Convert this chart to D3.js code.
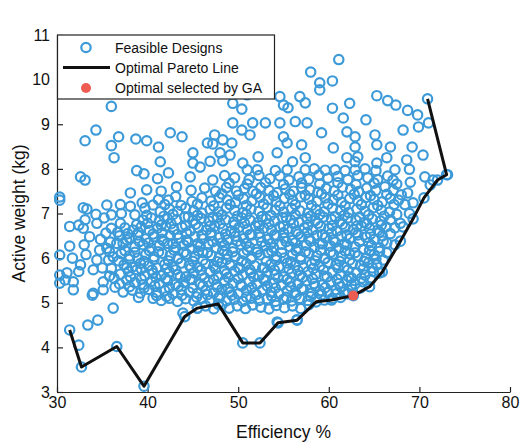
<!DOCTYPE html>
<html>
<head>
<meta charset="utf-8">
<script src="https://cdn.jsdelivr.net/npm/d3@7"></script>
<style>
  body { margin: 0; background: #fff; }
  svg { display: block; font-family: "Liberation Sans", Arial, Helvetica, sans-serif; }
</style>
</head>
<body>
<svg id="chart" width="526" height="444"></svg>
<script>
// Axis ticks
const effTicks = [30, 40, 50, 60, 70, 80];
const weightTicks = [3, 4, 5, 6, 7, 8, 9, 10, 11];

// Optimal Pareto line (efficiency %, active weight kg)
const paretoEff =    [31.4, 32.7, 36.6, 39.6, 44.1, 45.5, 47.8, 50.5, 52.4, 54.4, 56.5, 58.6, 60.3, 62.7, 64.5, 65.9, 67.9, 69.3, 70.5, 72.0, 73.0, 70.9];
const paretoWeight = [4.39, 3.56, 4.02, 3.13, 4.69, 4.88, 4.97, 4.10, 4.10, 4.55, 4.61, 5.02, 5.06, 5.16, 5.36, 5.69, 6.38, 6.88, 7.35, 7.75, 7.87, 9.57];

// Design chosen by the genetic algorithm
const gaEff = [62.7];
const gaWeight = [5.16];

// Feasible designs [efficiency %, active weight kg]
const feasibleDesigns = [
  // upper, sparse part
  [61.1,10.45],[58.0,10.17],[59.0,9.93],[60.4,9.97],[59.0,9.77],
  [65.3,9.64],[66.5,9.53],[67.4,9.43],[68.7,9.31],[69.8,9.21],
  [62.3,9.47],[60.4,9.36],[61.6,9.14],[64.1,9.10],
  [54.6,9.62],[55.0,9.43],[55.5,9.37],[56.8,9.62],[57.4,9.48],
  [51.0,9.66],[50.4,9.34],[49.4,9.47],[36.0,9.40],
  [51.6,9.03],[53.0,9.03],[54.6,9.03],[56.3,9.06],[57.6,9.03],[49.4,9.03],[50.4,8.87],
  [71.0,9.03],[69.9,8.94],[68.2,8.87],[59.2,8.81],[62.0,8.83],[62.9,8.72],[65.1,8.76],
  [55.0,8.72],[55.4,8.58],[51.3,8.76],
  [33.1,8.63],[34.3,8.87],[36.0,8.52],[36.8,8.72],[36.3,8.25],[38.7,8.67],[39.9,8.63],
  [41.2,8.49],[42.5,8.81],[43.8,8.72],[41.4,8.16],
  [45.0,8.36],[45.0,8.13],[45.8,8.04],[46.9,8.17],[46.6,8.58],[47.4,8.76],[47.2,8.56],
  [48.3,8.65],[49.3,8.58],[48.0,8.36],[49.1,8.31],[48.3,8.18],[50.5,8.13],
  [57.0,8.54],[60.5,8.47],[62.9,8.49],[63.2,8.27],[65.3,8.54],[66.8,8.49],[69.2,8.49],
  [70.4,8.31],[68.6,8.20],[66.4,8.25],[65.3,8.13],[62.9,8.16],[62.0,8.25],[52.2,8.27],
  [54.3,8.36],[56.0,8.16],[57.4,8.25],
  // band around 8.0
  [51.0,7.98],[52.1,7.98],[54.1,7.96],[55.4,7.98],[57.4,7.98],[58.4,8.00],[59.6,7.97],
  [60.7,7.98],[61.8,7.96],[62.9,7.98],[64.0,8.00],[65.2,7.96],[67.3,7.98],[68.9,7.99],
  // band around 7.8
  [32.6,7.82],[33.1,7.75],[38.8,7.96],[39.6,7.89],[41.1,7.78],[42.3,7.91],[44.7,7.82],
  [47.2,7.75],[48.5,7.85],[49.6,7.80],[51.2,7.76],[52.3,7.85],[53.5,7.78],[54.6,7.84],
  [55.6,7.75],[56.7,7.82],[57.8,7.77],[58.9,7.86],[59.9,7.79],[61.0,7.83],[62.1,7.76],
  [63.2,7.85],[64.3,7.80],[65.4,7.76],[66.5,7.84],[67.1,7.75],[70.6,7.82],[71.5,7.75],[73.1,7.87],
  [49.0,7.68],[51.0,7.66],[53.0,7.69],[55.0,7.65],[57.0,7.68],[59.0,7.66],[61.0,7.69],
  [63.0,7.65],[65.0,7.68],[67.5,7.66],[69.0,7.70],
  // band around 7.55
  [39.9,7.53],[43.2,7.60],[46.3,7.57],[41.5,7.50],[44.8,7.52],[47.5,7.50],[48.7,7.58],
  [49.8,7.50],[50.7,7.56],[51.6,7.50],[52.5,7.58],[53.4,7.52],[54.3,7.47],[55.2,7.55],
  [56.1,7.50],[57.0,7.58],[57.9,7.53],[58.8,7.48],[59.7,7.56],[60.6,7.51],[61.5,7.59],
  [62.4,7.54],[63.3,7.49],[64.2,7.57],[65.2,7.52],[66.2,7.60],[67.1,7.52],[68.7,7.46],[71.2,7.64],
  [48.2,7.44],[50.0,7.41],[52.0,7.44],[53.9,7.40],[55.7,7.43],[57.4,7.41],[59.2,7.44],
  [61.0,7.41],[62.8,7.43],[64.6,7.40],[66.4,7.43],[68.0,7.42],
  // band around 7.3
  [30.3,7.37],[38.1,7.46],[39.4,7.24],[41.2,7.31],[42.3,7.30],[43.1,7.38],[44.9,7.27],
  [46.0,7.35],[47.0,7.28],[47.9,7.36],[48.8,7.30],[49.7,7.25],[50.6,7.33],[51.5,7.28],
  [52.4,7.36],[53.3,7.31],[54.2,7.26],[55.1,7.34],[56.0,7.29],[56.9,7.37],[57.8,7.32],
  [58.7,7.27],[59.6,7.35],[60.5,7.30],[61.4,7.25],[62.3,7.33],[63.2,7.28],[64.1,7.36],
  [65.0,7.31],[65.9,7.26],[66.8,7.34],[67.7,7.30],
  [37.0,7.20],[41.9,7.20],[43.7,7.18],[45.5,7.21],[47.3,7.17],[49.1,7.20],[50.9,7.18],
  [52.8,7.21],[54.6,7.17],[56.3,7.20],[58.1,7.18],[59.9,7.21],[61.8,7.17],[63.6,7.20],
  [65.4,7.18],[67.2,7.20],
  // band around 7.05
  [30.3,7.30],[33.3,7.10],[32.9,7.13],[35.5,7.19],[38.1,7.16],[39.7,7.12],[40.6,7.19],
  [41.4,7.04],[42.4,7.10],[43.3,7.05],[44.2,7.12],[45.1,7.06],[46.0,7.01],[46.9,7.09],
  [47.8,7.04],[48.7,7.12],[49.6,7.07],[50.5,7.02],[51.4,7.10],[52.3,7.05],[53.2,7.13],
  [54.1,7.08],[55.0,7.03],[55.9,7.11],[56.8,7.06],[57.7,7.01],[58.6,7.09],[59.5,7.04],
  [60.4,7.12],[61.3,7.07],[62.2,7.02],[63.1,7.10],[64.0,7.05],[64.9,7.13],[65.8,7.08],
  [66.7,7.03],[68.4,7.20],[69.3,7.24],[68.9,7.00],
  [34.3,6.98],[39.9,6.96],[41.8,6.94],[42.8,6.98],[44.5,6.93],[45.5,6.96],[47.2,6.92],
  [48.2,6.97],[49.9,6.94],[50.9,6.98],[52.6,6.93],[53.6,6.96],[55.3,6.92],[56.3,6.97],
  [58.0,6.94],[59.0,6.98],[60.7,6.93],[61.7,6.96],[63.4,6.92],[64.4,6.97],[66.1,6.94],[67.5,6.98],
  // band around 6.85
  [33.1,6.86],[35.2,6.90],[36.0,6.97],[37.1,7.00],[38.6,6.97],[39.5,6.85],[40.4,6.90],
  [41.3,6.83],[42.2,6.88],[43.2,6.86],[44.1,6.92],[45.0,6.84],[45.9,6.89],[46.8,6.83],
  [47.7,6.91],[48.6,6.86],[49.5,6.81],[50.4,6.90],[51.3,6.85],[52.2,6.80],[53.1,6.88],
  [54.0,6.83],[54.9,6.91],[55.8,6.86],[56.7,6.81],[57.6,6.89],[58.5,6.84],[59.4,6.92],
  [60.3,6.87],[61.2,6.82],[62.1,6.90],[63.0,6.85],[63.9,6.80],[64.8,6.88],[65.7,6.83],[66.8,6.86],
  [37.0,6.78],[38.8,6.75],[40.0,6.78],[41.5,6.74],[42.6,6.77],[44.2,6.73],[45.3,6.76],
  [46.9,6.72],[48.0,6.77],[49.6,6.74],[50.7,6.78],[52.3,6.73],[53.4,6.76],[55.0,6.72],
  [56.1,6.77],[57.7,6.74],[58.8,6.78],[60.4,6.73],[61.5,6.76],[63.1,6.72],[64.2,6.77],[65.8,6.74],
  // band around 6.65
  [31.4,6.71],[32.4,6.74],[32.9,6.67],[34.4,6.78],[36.0,6.67],[36.7,6.58],[37.5,6.68],
  [38.4,6.63],[39.3,6.70],[40.2,6.62],[41.1,6.67],[42.0,6.72],[42.9,6.64],[43.8,6.69],
  [44.7,6.61],[45.6,6.68],[46.5,6.63],[47.4,6.71],[48.3,6.66],[49.2,6.60],[50.1,6.69],
  [51.0,6.64],[51.9,6.72],[52.8,6.67],[53.7,6.62],[54.6,6.70],[55.5,6.65],[56.4,6.60],
  [57.3,6.68],[58.2,6.63],[59.1,6.71],[60.0,6.66],[60.9,6.61],[61.8,6.69],[62.7,6.64],
  [63.6,6.72],[64.5,6.67],[65.4,6.62],[66.3,6.70],[67.3,6.68],[68.2,6.70],[67.9,6.78],
  [35.4,6.56],[37.8,6.55],[39.0,6.58],[40.6,6.54],[41.6,6.57],[43.3,6.53],[44.3,6.56],
  [46.0,6.52],[47.0,6.57],[48.6,6.54],[49.6,6.58],[51.3,6.53],[52.3,6.56],[54.0,6.52],
  [55.0,6.57],[56.6,6.54],[57.6,6.58],[59.3,6.53],[60.3,6.56],[62.0,6.52],[63.0,6.57],
  [64.6,6.54],[65.6,6.58],
  // band around 6.45
  [33.6,6.48],[34.8,6.42],[36.9,6.50],[38.0,6.45],[38.9,6.52],[39.8,6.43],[40.7,6.48],
  [41.6,6.42],[42.5,6.50],[43.4,6.45],[44.3,6.40],[45.2,6.48],[46.1,6.43],[47.0,6.51],
  [47.9,6.46],[48.8,6.41],[49.7,6.49],[50.6,6.44],[51.5,6.52],[52.4,6.47],[53.3,6.42],
  [54.2,6.50],[55.1,6.45],[56.0,6.40],[56.9,6.48],[57.8,6.43],[58.7,6.51],[59.6,6.46],
  [60.5,6.41],[61.4,6.49],[62.3,6.44],[63.2,6.52],[64.1,6.47],[65.0,6.42],[65.9,6.50],[66.8,6.55],
  [35.9,6.36],[37.3,6.33],[39.1,6.37],[40.1,6.34],[41.8,6.38],[42.8,6.33],[44.5,6.36],
  [45.5,6.32],[47.2,6.37],[48.2,6.34],[49.9,6.38],[50.9,6.33],[52.6,6.36],[53.6,6.32],
  [55.3,6.37],[56.3,6.34],[58.0,6.38],[59.0,6.33],[60.7,6.36],[61.7,6.32],[63.4,6.37],
  [64.4,6.34],[66.0,6.38],
  // band around 6.25
  [31.4,6.27],[33.0,6.30],[35.5,6.22],[36.6,6.33],[37.7,6.41],[38.6,6.25],[39.5,6.30],
  [40.4,6.22],[41.3,6.28],[42.2,6.33],[43.1,6.24],[44.0,6.29],[44.9,6.21],[45.8,6.27],
  [46.7,6.32],[47.6,6.23],[48.5,6.28],[49.4,6.22],[50.3,6.30],[51.2,6.25],[52.1,6.20],
  [53.0,6.28],[53.9,6.23],[54.8,6.31],[55.7,6.26],[56.6,6.21],[57.5,6.29],[58.4,6.24],
  [59.3,6.32],[60.2,6.27],[61.1,6.22],[62.0,6.30],[62.9,6.25],[63.8,6.20],[64.7,6.28],
  [65.6,6.23],[66.4,6.34],[67.3,6.30],
  [35.8,6.14],[37.5,6.17],[38.6,6.13],[40.2,6.17],[41.2,6.14],[42.9,6.18],[44.0,6.13],
  [45.6,6.16],[46.6,6.12],[48.3,6.17],[49.4,6.14],[51.0,6.18],[52.1,6.13],[53.7,6.16],
  [54.8,6.12],[56.4,6.17],[57.4,6.14],[59.1,6.18],[60.2,6.13],[61.8,6.16],[62.9,6.12],
  [64.5,6.17],[65.6,6.15],
  // band around 6.05
  [30.3,6.07],[31.7,6.00],[33.2,6.08],[34.7,6.18],[36.2,6.03],[37.1,6.10],[38.0,6.05],
  [38.9,6.00],[39.8,6.08],[40.7,6.03],[41.6,6.11],[42.5,6.06],[43.4,6.00],[44.3,6.09],
  [45.2,6.04],[46.1,6.12],[47.0,6.06],[47.9,6.01],[48.8,6.09],[49.7,6.04],[50.6,6.10],
  [51.5,6.02],[52.4,6.07],[53.3,6.12],[54.2,6.04],[55.1,6.00],[56.0,6.08],[56.9,6.03],
  [57.8,6.11],[58.7,6.06],[59.6,6.00],[60.5,6.09],[61.4,6.04],[62.3,6.10],[63.2,6.05],
  [64.1,6.00],[65.0,6.08],[66.0,5.96],[66.4,6.12],
  [36.8,5.94],[38.0,5.97],[39.6,5.93],[40.7,5.97],[42.3,5.94],[43.3,5.98],[45.0,5.93],
  [46.1,5.96],[47.7,5.92],[48.7,5.97],[50.4,5.94],[51.4,5.98],[53.1,5.93],[54.2,5.96],
  [55.8,5.92],[56.9,5.97],[58.5,5.94],[59.5,5.98],[61.2,5.93],[62.3,5.96],[63.9,5.93],[65.2,5.98],
  // band around 5.85
  [32.6,5.85],[34.4,5.96],[35.7,5.96],[36.0,5.77],[37.4,5.85],[38.3,5.80],[39.2,5.88],
  [40.1,5.83],[41.0,5.78],[41.9,5.86],[42.8,5.81],[43.7,5.89],[44.6,5.84],[45.5,5.79],
  [46.4,5.87],[47.3,5.82],[48.2,5.90],[49.1,5.84],[50.0,5.79],[50.9,5.88],[51.8,5.83],
  [52.7,5.78],[53.6,5.86],[54.5,5.81],[55.4,5.89],[56.3,5.84],[57.2,5.79],[58.1,5.87],
  [59.0,5.82],[59.9,5.90],[60.8,5.85],[61.7,5.80],[62.6,5.88],[63.5,5.83],[64.4,5.90],[65.3,5.85],
  [35.0,5.78],[37.7,5.78],[39.3,5.76],[40.5,5.73],[42.1,5.77],[43.1,5.74],[44.8,5.78],
  [45.9,5.73],[47.5,5.76],[48.5,5.72],[50.2,5.77],[51.3,5.74],[52.9,5.78],[54.0,5.73],
  [55.6,5.76],[56.6,5.72],[58.3,5.77],[59.4,5.74],[61.0,5.78],[62.1,5.73],[63.8,5.76],[64.8,5.78],
  // band around 5.65
  [30.3,5.62],[31.1,5.67],[32.4,5.70],[34.0,5.74],[35.8,5.60],[37.0,5.64],[37.9,5.70],
  [38.8,5.74],[39.7,5.60],[40.6,5.66],[41.5,5.61],[42.4,5.69],[43.3,5.63],[44.2,5.58],
  [45.1,5.67],[46.0,5.62],[46.9,5.70],[47.8,5.60],[48.7,5.65],[49.6,5.71],[50.5,5.62],
  [51.4,5.67],[52.3,5.60],[53.2,5.69],[54.1,5.63],[55.0,5.58],[55.9,5.66],[56.8,5.61],
  [57.7,5.70],[58.6,5.64],[59.5,5.60],[60.4,5.68],[61.3,5.63],[62.2,5.58],[63.1,5.67],
  [64.0,5.62],[64.9,5.70],[65.6,5.67],
  [36.3,5.55],[38.1,5.58],[39.3,5.53],[40.9,5.57],[42.0,5.54],[43.6,5.58],[44.7,5.53],
  [46.3,5.56],[47.3,5.52],[48.9,5.57],[50.0,5.54],[51.7,5.58],[52.8,5.53],[54.4,5.56],
  [55.4,5.52],[57.1,5.57],[58.2,5.54],[59.8,5.58],[60.9,5.53],[62.5,5.56],[63.6,5.55],
  // band around 5.45
  [30.3,5.44],[30.9,5.51],[31.8,5.47],[35.1,5.47],[36.9,5.42],[37.7,5.51],[38.6,5.45],
  [39.5,5.40],[40.4,5.48],[41.3,5.43],[42.2,5.50],[43.1,5.41],[44.0,5.46],[44.9,5.52],
  [45.8,5.42],[46.7,5.47],[47.6,5.40],[48.5,5.49],[49.4,5.44],[50.3,5.40],[51.2,5.48],
  [52.1,5.42],[53.0,5.50],[53.9,5.44],[54.8,5.40],[55.7,5.47],[56.6,5.42],[57.5,5.49],
  [58.4,5.43],[59.3,5.40],[60.2,5.47],[61.1,5.43],[62.0,5.50],[62.9,5.42],[63.8,5.47],[64.6,5.52],
  [38.0,5.36],[39.6,5.33],[40.8,5.38],[42.4,5.34],[43.4,5.37],[45.0,5.33],[46.1,5.38],
  [47.7,5.35],[48.9,5.32],[50.4,5.37],[51.5,5.34],[53.2,5.38],[54.1,5.33],[55.8,5.36],
  [57.0,5.32],[58.5,5.37],[59.6,5.34],[61.3,5.36],[62.5,5.40],
  // band around 5.25
  [31.8,5.29],[34.0,5.21],[36.4,5.35],[37.3,5.24],[38.3,5.28],[39.2,5.22],[40.1,5.30],
  [41.0,5.23],[41.9,5.27],[42.8,5.20],[43.7,5.29],[44.6,5.24],[45.5,5.21],[46.4,5.28],
  [47.3,5.22],[48.2,5.30],[49.1,5.24],[50.0,5.20],[50.9,5.28],[51.8,5.22],[52.7,5.29],
  [53.6,5.24],[54.5,5.20],[55.4,5.27],[56.3,5.23],[57.2,5.30],[58.1,5.21],[59.0,5.27],
  [59.9,5.23],[60.8,5.29],[61.7,5.24],[62.6,5.30],[63.5,5.33],
  [39.0,5.12],[41.0,5.16],[42.1,5.14],[43.8,5.17],[45.4,5.13],[46.6,5.18],[48.0,5.15],
  [49.3,5.17],[50.9,5.13],[52.0,5.18],[53.7,5.15],[55.3,5.12],[56.4,5.17],[58.0,5.14],
  [59.2,5.18],[60.8,5.20],
  // band around 5.05
  [33.9,5.17],[35.1,5.29],[40.6,5.10],[41.5,5.05],[42.4,5.10],[43.3,5.03],[44.2,5.09],
  [45.1,5.04],[46.0,5.10],[46.9,5.05],[47.8,5.11],[48.7,5.04],[49.6,5.08],[50.5,5.03],
  [51.4,5.10],[52.3,5.05],[53.2,5.09],[54.1,5.03],[55.0,5.08],[55.9,5.04],[56.8,5.10],
  [57.7,5.05],[58.6,5.10],[59.5,5.06],[60.4,5.10],[61.3,5.12],[62.1,5.20],
  // lower edge of the cloud
  [45.5,4.88],[46.4,4.93],[47.3,4.86],[48.2,4.95],[49.0,4.88],[49.9,4.93],[50.8,4.87],
  [51.6,4.95],[52.5,4.90],[53.4,4.86],[54.2,4.94],[55.1,4.89],[56.0,4.93],[56.9,4.87],[57.8,4.96],
  [43.9,4.77],[54.3,4.57],[56.5,4.62],[33.4,4.50],[34.5,4.61],[32.4,4.05],[36.2,4.88]
];

const svg = d3.select("#chart");
const x = d3.scaleLinear().domain([30, 80]).range([57, 510]);
const y = d3.scaleLinear().domain([3, 11]).range([392, 35]);

const blue = "#3d9ad8";

// Axes (ticks point into the plot)
const xAxis = svg.append("g")
  .attr("transform", `translate(0,${y(3)})`)
  .call(d3.axisBottom(x).tickValues(effTicks).tickSize(-5).tickSizeOuter(0).tickPadding(5));
const yAxis = svg.append("g")
  .attr("transform", `translate(${x(30)},0)`)
  .call(d3.axisLeft(y).tickValues(weightTicks).tickSize(-6).tickSizeOuter(0).tickPadding(7));
[xAxis, yAxis].forEach(g => {
  g.select(".domain").attr("stroke", "#222").attr("stroke-width", 1.2);
  g.selectAll(".tick line").attr("stroke", "#222").attr("stroke-width", 1.2);
  g.selectAll(".tick text").attr("fill", "#111").style("font-size", "16px")
    .style("font-family", '"Liberation Sans", Arial, sans-serif');
});

// Feasible designs (the Pareto designs are feasible too)
const designs = feasibleDesigns.concat(paretoEff.map((e, i) => [e, paretoWeight[i]]));
svg.append("g").selectAll("circle")
  .data(designs)
  .join("circle")
  .attr("cx", d => x(d[0]))
  .attr("cy", d => y(d[1]))
  .attr("r", 4.7)
  .attr("fill", "none")
  .attr("stroke", blue)
  .attr("stroke-width", 2.2);

// Pareto line
const line = d3.line().x(d => x(d[0])).y(d => y(d[1]));
svg.append("path")
  .datum(paretoEff.map((e, i) => [e, paretoWeight[i]]))
  .attr("d", line)
  .attr("fill", "none")
  .attr("stroke", "#111")
  .attr("stroke-width", 3)
  .attr("stroke-linejoin", "round");

// GA selection
svg.append("g").selectAll("circle")
  .data(gaEff.map((e, i) => [e, gaWeight[i]]))
  .join("circle")
  .attr("cx", d => x(d[0]))
  .attr("cy", d => y(d[1]))
  .attr("r", 5)
  .attr("fill", "#ee5b50");

// Legend
const lg = svg.append("g");
lg.append("rect").attr("x", 57.5).attr("y", 35).attr("width", 217).attr("height", 64)
  .attr("fill", "#fff").attr("stroke", "#222").attr("stroke-width", 1.2);
lg.append("circle").attr("cx", 86).attr("cy", 47.5).attr("r", 4.7)
  .attr("fill", "none").attr("stroke", blue).attr("stroke-width", 2.2);
lg.append("line").attr("x1", 63).attr("x2", 110).attr("y1", 67.5).attr("y2", 67.5)
  .attr("stroke", "#111").attr("stroke-width", 3);
lg.append("circle").attr("cx", 86).attr("cy", 88).attr("r", 5).attr("fill", "#ee5b50");
const legendLabels = ["Feasible Designs", "Optimal Pareto Line", "Optimal selected by GA"];
const legendY = [53, 73, 93];
legendLabels.forEach((t, i) => {
  lg.append("text").attr("x", 115).attr("y", legendY[i])
    .style("font-size", "14px").attr("fill", "#111").text(t);
});

// Axis titles
svg.append("text").attr("x", x(55)).attr("y", 438).attr("text-anchor", "middle")
  .style("font-size", "17.5px").attr("fill", "#111").text("Efficiency %");
svg.append("text").attr("transform", `translate(25,${y(7)}) rotate(-90)`)
  .attr("text-anchor", "middle")
  .style("font-size", "17.5px").attr("fill", "#111").text("Active weight (kg)");
</script>
</body>
</html>
